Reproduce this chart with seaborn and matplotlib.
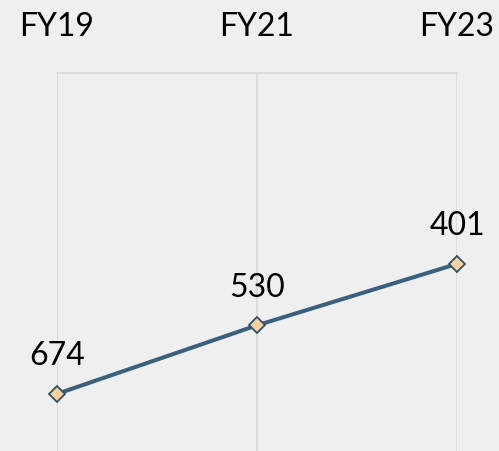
import pandas as pd
import seaborn as sns
import matplotlib.pyplot as plt

# data
years = ["FY19", "FY21", "FY23"]
values = [674, 530, 401]

df = pd.DataFrame({"year": years, "value": values})

sns.set_theme(style="white")
plt.rcParams["font.family"] = ["Lato", "DejaVu Sans"]

bg = "#efefef"
grid_col = "#d9d9d9"
line_col = "#39607d"

fig = plt.figure(figsize=(4.99, 4.51), dpi=100, facecolor=bg)
ax = fig.add_axes([57 / 499, 0, 400 / 499, 378 / 451])
ax.set_facecolor(bg)

sns.lineplot(data=df, x="year", y="value", ax=ax, color=line_col, linewidth=2.9,
             marker="D", markersize=8, markerfacecolor="#f7d1a0",
             markeredgecolor="#2f5068", markeredgewidth=1.3, clip_on=False,
             zorder=5)

ax.set_xlim(0, 2)
ax.set_ylim(794, 0)
ax.set_xlabel("")
ax.set_ylabel("")
ax.set_yticks([])

ax.xaxis.tick_top()
ax.tick_params(axis="x", length=0, pad=22, labelsize=23, labelcolor="black")
ax.grid(axis="x", color=grid_col, linewidth=1.2)
ax.grid(axis="y", visible=False)

for s in ["left", "right", "bottom"]:
    ax.spines[s].set_visible(False)
ax.spines["top"].set_color(grid_col)
ax.spines["top"].set_linewidth(1.2)

for i, v in enumerate(values):
    ax.annotate(str(v), (i, v), xytext=(0, 27), textcoords="offset points",
                ha="center", va="center", fontsize=23, color="black",
                annotation_clip=False)

fig.savefig("out.png", dpi=100, facecolor=bg)
